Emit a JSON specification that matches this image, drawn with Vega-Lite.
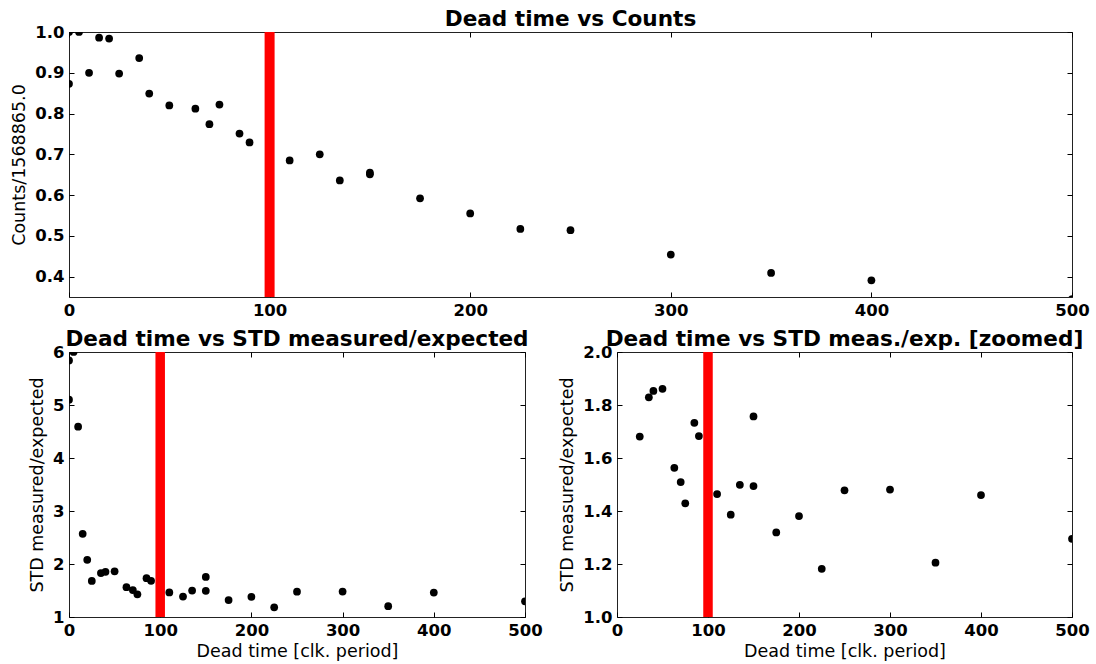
{
  "$schema": "https://vega.github.io/schema/vega-lite/v6.json",
  "background": "white",
  "padding": {"left": 10, "top": 8, "right": 0, "bottom": 0},
  "bounds": "flush",
  "spacing": 55,
  "config": {
    "view": {"stroke": "#222", "strokeWidth": 1},
    "axis": {
      "domain": false, "grid": false, "tickSize": -5, "tickColor": "black", "tickWidth": 1,
      "labelFont": "DejaVu Sans", "labelFontWeight": "bold", "labelFontSize": 16.5, "labelColor": "black",
      "titleFont": "DejaVu Sans", "titleFontWeight": "normal", "titleFontSize": 17.5, "titleColor": "black",
      "labelFlush": false, "labelOverlap": false, "zindex": 1
    },
    "axisX": {"labelPadding": 10, "titlePadding": 4},
    "axisY": {"labelPadding": 10, "titlePadding": 6},
    "axisTop": {"labelPadding": 0, "minExtent": 0, "maxExtent": 0},
    "axisRight": {"labelPadding": 0, "minExtent": 0, "maxExtent": 0},
    "title": {"font": "DejaVu Sans", "fontWeight": "bold", "fontSize": 21.6, "color": "black", "anchor": "middle", "frame": "group", "offset": -7, "baseline": "alphabetic"}
  },
  "datasets": {
    "counts": [
      {"dead_time": 0, "norm_counts": 0.873},
      {"dead_time": 0, "norm_counts": 1.0},
      {"dead_time": 5, "norm_counts": 1.0},
      {"dead_time": 10, "norm_counts": 0.900},
      {"dead_time": 15, "norm_counts": 0.986},
      {"dead_time": 20, "norm_counts": 0.984},
      {"dead_time": 25, "norm_counts": 0.898},
      {"dead_time": 35, "norm_counts": 0.936},
      {"dead_time": 40, "norm_counts": 0.849},
      {"dead_time": 50, "norm_counts": 0.820},
      {"dead_time": 63, "norm_counts": 0.812},
      {"dead_time": 70, "norm_counts": 0.774},
      {"dead_time": 75, "norm_counts": 0.822},
      {"dead_time": 85, "norm_counts": 0.751},
      {"dead_time": 90, "norm_counts": 0.729},
      {"dead_time": 110, "norm_counts": 0.685},
      {"dead_time": 125, "norm_counts": 0.700},
      {"dead_time": 135, "norm_counts": 0.636},
      {"dead_time": 150, "norm_counts": 0.651},
      {"dead_time": 150, "norm_counts": 0.655},
      {"dead_time": 175, "norm_counts": 0.592},
      {"dead_time": 200, "norm_counts": 0.555},
      {"dead_time": 225, "norm_counts": 0.517},
      {"dead_time": 250, "norm_counts": 0.514},
      {"dead_time": 300, "norm_counts": 0.454},
      {"dead_time": 350, "norm_counts": 0.409},
      {"dead_time": 400, "norm_counts": 0.391},
      {"dead_time": 500, "norm_counts": 0.345}
    ],
    "std": [
      {"dead_time": 0, "std_ratio": 5.84},
      {"dead_time": 0, "std_ratio": 5.10},
      {"dead_time": 5, "std_ratio": 6.0},
      {"dead_time": 10, "std_ratio": 4.59},
      {"dead_time": 15, "std_ratio": 2.57},
      {"dead_time": 20, "std_ratio": 2.08},
      {"dead_time": 25, "std_ratio": 1.681},
      {"dead_time": 35, "std_ratio": 1.829},
      {"dead_time": 40, "std_ratio": 1.853},
      {"dead_time": 50, "std_ratio": 1.861},
      {"dead_time": 63, "std_ratio": 1.563},
      {"dead_time": 70, "std_ratio": 1.509},
      {"dead_time": 75, "std_ratio": 1.429},
      {"dead_time": 85, "std_ratio": 1.733},
      {"dead_time": 90, "std_ratio": 1.683},
      {"dead_time": 110, "std_ratio": 1.464},
      {"dead_time": 125, "std_ratio": 1.386},
      {"dead_time": 135, "std_ratio": 1.499},
      {"dead_time": 150, "std_ratio": 1.757},
      {"dead_time": 150, "std_ratio": 1.494},
      {"dead_time": 175, "std_ratio": 1.319},
      {"dead_time": 200, "std_ratio": 1.381},
      {"dead_time": 225, "std_ratio": 1.182},
      {"dead_time": 250, "std_ratio": 1.478},
      {"dead_time": 300, "std_ratio": 1.481},
      {"dead_time": 350, "std_ratio": 1.205},
      {"dead_time": 400, "std_ratio": 1.460},
      {"dead_time": 500, "std_ratio": 1.295}
    ],
    "marker": [{"dead_time": 100}]
  },
  "vconcat": [
    {
      "title": "Dead time vs Counts",
      "width": 1003, "height": 265,
      "layer": [
        {
          "data": {"name": "marker"},
          "mark": {"type": "rule", "color": "#ff0000", "strokeWidth": 10},
          "encoding": {"x": {"field": "dead_time", "type": "quantitative", "scale": {"domain": [0, 500], "nice": false}, "axis": null}}
        },
        {
          "data": {"name": "counts"},
          "mark": {"type": "point", "filled": true, "color": "black", "opacity": 1, "size": 60, "clip": true},
          "encoding": {
            "x": {"field": "dead_time", "type": "quantitative", "scale": {"domain": [0, 500], "nice": false},
                  "axis": {"title": null, "values": [0, 100, 200, 300, 400, 500], "format": "d"}},
            "y": {"field": "norm_counts", "type": "quantitative", "scale": {"domain": [0.35, 1.0], "nice": false, "zero": false},
                  "axis": {"title": "Counts/1568865.0", "values": [0.4, 0.5, 0.6, 0.7, 0.8, 0.9, 1.0], "format": ".1f"}}
          }
        },
        {
          "data": {"name": "counts"},
          "mark": {"type": "point", "opacity": 0},
          "encoding": {
            "x": {"field": "dead_time", "type": "quantitative", "scale": {"domain": [0, 500], "nice": false},
                  "axis": {"orient": "top", "labels": false, "title": null, "values": [0, 100, 200, 300, 400, 500]}},
            "y": {"field": "norm_counts", "type": "quantitative", "scale": {"domain": [0.35, 1.0], "nice": false, "zero": false},
                  "axis": {"orient": "right", "labels": false, "title": null, "values": [0.4, 0.5, 0.6, 0.7, 0.8, 0.9, 1.0]}}
          }
        }
      ],
      "resolve": {"axis": {"x": "independent", "y": "independent"}}
    },
    {
      "bounds": "flush",
      "spacing": 92,
      "hconcat": [
        {
          "title": "Dead time vs STD measured/expected",
          "width": 456, "height": 265,
          "layer": [
            {
              "data": {"name": "marker"},
              "mark": {"type": "rule", "color": "#ff0000", "strokeWidth": 9.5},
              "encoding": {"x": {"field": "dead_time", "type": "quantitative", "scale": {"domain": [0, 500], "nice": false}, "axis": null}}
            },
            {
              "data": {"name": "std"},
              "mark": {"type": "point", "filled": true, "color": "black", "opacity": 1, "size": 60, "clip": true},
              "encoding": {
                "x": {"field": "dead_time", "type": "quantitative", "scale": {"domain": [0, 500], "nice": false},
                      "axis": {"title": "Dead time [clk. period]", "values": [0, 100, 200, 300, 400, 500], "format": "d"}},
                "y": {"field": "std_ratio", "type": "quantitative", "scale": {"domain": [1, 6], "nice": false, "zero": false},
                      "axis": {"title": "STD measured/expected", "values": [1, 2, 3, 4, 5, 6], "format": "d"}}
              }
            },
            {
              "data": {"name": "std"},
              "mark": {"type": "point", "opacity": 0},
              "encoding": {
                "x": {"field": "dead_time", "type": "quantitative", "scale": {"domain": [0, 500], "nice": false},
                      "axis": {"orient": "top", "labels": false, "title": null, "values": [0, 100, 200, 300, 400, 500]}},
                "y": {"field": "std_ratio", "type": "quantitative", "scale": {"domain": [1, 6], "nice": false, "zero": false},
                      "axis": {"orient": "right", "labels": false, "title": null, "values": [1, 2, 3, 4, 5, 6]}}
              }
            }
          ],
          "resolve": {"axis": {"x": "independent", "y": "independent"}}
        },
        {
          "title": "Dead time vs STD meas./exp. [zoomed]",
          "width": 455, "height": 265,
          "layer": [
            {
              "data": {"name": "marker"},
              "mark": {"type": "rule", "color": "#ff0000", "strokeWidth": 9.5},
              "encoding": {"x": {"field": "dead_time", "type": "quantitative", "scale": {"domain": [0, 500], "nice": false}, "axis": null}}
            },
            {
              "data": {"name": "std"},
              "mark": {"type": "point", "filled": true, "color": "black", "opacity": 1, "size": 60, "clip": true},
              "encoding": {
                "x": {"field": "dead_time", "type": "quantitative", "scale": {"domain": [0, 500], "nice": false},
                      "axis": {"title": "Dead time [clk. period]", "values": [0, 100, 200, 300, 400, 500], "format": "d"}},
                "y": {"field": "std_ratio", "type": "quantitative", "scale": {"domain": [1, 2], "nice": false, "zero": false},
                      "axis": {"title": "STD measured/expected", "values": [1.0, 1.2, 1.4, 1.6, 1.8, 2.0], "format": ".1f"}}
              }
            },
            {
              "data": {"name": "std"},
              "mark": {"type": "point", "opacity": 0, "clip": true},
              "encoding": {
                "x": {"field": "dead_time", "type": "quantitative", "scale": {"domain": [0, 500], "nice": false},
                      "axis": {"orient": "top", "labels": false, "title": null, "values": [0, 100, 200, 300, 400, 500]}},
                "y": {"field": "std_ratio", "type": "quantitative", "scale": {"domain": [1, 2], "nice": false, "zero": false},
                      "axis": {"orient": "right", "labels": false, "title": null, "values": [1.0, 1.2, 1.4, 1.6, 1.8, 2.0]}}
              }
            }
          ],
          "resolve": {"axis": {"x": "independent", "y": "independent"}}
        }
      ]
    }
  ]
}
